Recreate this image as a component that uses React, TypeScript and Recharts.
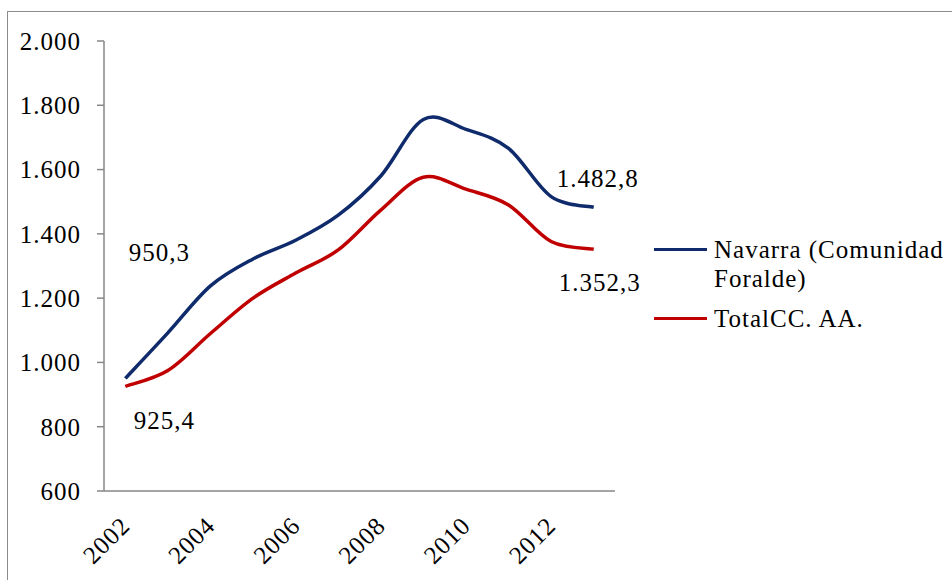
import React from "react";
import { LineChart, Line, XAxis, YAxis, LabelList } from "recharts";

const years = [2002, 2003, 2004, 2005, 2006, 2007, 2008, 2009, 2010, 2011, 2012, 2013];
const navarra = [950.3, 1092, 1238, 1322, 1380, 1458, 1580, 1756, 1725, 1666, 1516, 1482.8];
const totalCCAA = [925.4, 975, 1090, 1200, 1278, 1350, 1474, 1576, 1539, 1490, 1376, 1352.3];
const yTicks = [600, 800, 1000, 1200, 1400, 1600, 1800, 2000];
const labelYears = [2002, 2004, 2006, 2008, 2010, 2012];

const FONT = "Liberation Serif";
const AXIS = "#878787";

const data = years.map((year, i) => ({ year, navarra: navarra[i], total: totalCCAA[i] }));

// category boundaries, where the tick marks sit
const boundaries = [...years.map((y) => y - 0.5), years[years.length - 1] + 0.5];
const xDomain = [boundaries[0], boundaries[boundaries.length - 1]];

const series = [
  { key: "navarra", name: "Navarra (Comunidad Foralde)", color: "#0f2b6c", first: [34, -126], last: [4, -29] },
  { key: "total", name: "TotalCC. AA.", color: "#c00000", first: [39, 34], last: [6, 33] },
];

function fmt(v: number, dec = 0) {
  const [i, d] = v.toFixed(dec).split(".");
  const ii = i.replace(/\B(?=(\d{3})+(?!\d))/g, ".");
  return d ? ii + "," + d : ii;
}

// Excel-style smoothed line (cardinal spline through the points)
function excelSmooth(context: any) {
  let pts: number[][] = [];
  return {
    areaStart() {},
    areaEnd() {},
    lineStart() {
      pts = [];
    },
    lineEnd() {
      if (!pts.length) return;
      context.moveTo(pts[0][0], pts[0][1]);
      for (let i = 0; i < pts.length - 1; i++) {
        const p0 = pts[i - 1] || pts[i];
        const p1 = pts[i];
        const p2 = pts[i + 1];
        const p3 = pts[i + 2] || p2;
        context.bezierCurveTo(
          p1[0] + (p2[0] - p0[0]) / 6,
          p1[1] + (p2[1] - p0[1]) / 6,
          p2[0] - (p3[0] - p1[0]) / 6,
          p2[1] - (p3[1] - p1[1]) / 6,
          p2[0],
          p2[1]
        );
      }
    },
    point(x: number, y: number) {
      pts.push([+x, +y]);
    },
  };
}

const XLabel = (props: any) => {
  const { x, y, payload } = props;
  return (
    <g transform={`translate(${x},${y + 29}) rotate(-45)`}>
      <text textAnchor="end" dy="0.35em" fontFamily={FONT} fontSize={25} letterSpacing={1} fill="#000">
        {payload.value}
      </text>
    </g>
  );
};

const endLabel = (s: (typeof series)[number]) => (props: any) => {
  const { x, y, index, value } = props;
  let off: number[] | null = null;
  if (index === 0) off = s.first;
  if (index === years.length - 1) off = s.last;
  if (!off) return null;
  return (
    <text
      x={x + off[0]}
      y={y + off[1]}
      textAnchor="middle"
      dominantBaseline="central"
      fontFamily={FONT}
      fontSize={25}
      letterSpacing={1}
      fill="#000"
    >
      {fmt(value, 1)}
    </text>
  );
};

export default function App() {
  return (
    <div style={{ position: "fixed", left: 0, top: 0, width: 952, height: 580, background: "#fff", overflow: "hidden" }}>
      <div
        style={{
          position: "absolute",
          left: 7,
          top: 11,
          width: 1000,
          height: 1000,
          border: "1px solid #8c8c8c",
        }}
      />
      <div style={{ position: "absolute", left: 0, top: 0 }}>
        <LineChart width={952} height={580} data={data} margin={{ top: 41, right: 337, bottom: 29, left: 0 }}>
          <XAxis
            xAxisId="a"
            dataKey="year"
            type="number"
            domain={xDomain}
            ticks={boundaries}
            interval={0}
            tick={false}
            tickSize={7}
            height={1}
            tickLine={{ stroke: AXIS, strokeWidth: 1.5 }}
            axisLine={{ stroke: AXIS, strokeWidth: 1.5 }}
          />
          <XAxis
            xAxisId="b"
            dataKey="year"
            type="number"
            domain={xDomain}
            ticks={labelYears}
            interval={0}
            tick={<XLabel />}
            tickLine={false}
            axisLine={false}
            tickSize={0}
            tickMargin={0}
            height={59}
          />
          <YAxis
            type="number"
            domain={[600, 2000]}
            ticks={yTicks}
            interval={0}
            width={104}
            tickSize={7}
            tickMargin={16}
            tickFormatter={(v) => fmt(v)}
            tick={{ fontFamily: FONT, fontSize: 25, fill: "#000", letterSpacing: 1 }}
            tickLine={{ stroke: AXIS, strokeWidth: 1.5 }}
            axisLine={{ stroke: AXIS, strokeWidth: 1.5 }}
          />
          {series.map((s) => (
            <Line
              key={s.key}
              xAxisId="a"
              dataKey={s.key}
              name={s.name}
              type={excelSmooth as any}
              stroke={s.color}
              strokeWidth={3.5}
              dot={false}
              activeDot={false}
              isAnimationActive={false}
            >
              <LabelList dataKey={s.key} content={endLabel(s)} />
            </Line>
          ))}
        </LineChart>
      </div>
      <div style={{ position: "absolute", left: 654, top: 235, fontFamily: FONT, fontSize: 25, lineHeight: "29px", letterSpacing: 1 }}>
        {series.map((s) => (
          <div key={s.key} style={{ display: "flex", alignItems: "flex-start", marginBottom: 11 }}>
            <div style={{ width: 53, height: 3.5, background: s.color, marginTop: 12.5, marginRight: 7, flexShrink: 0 }} />
            <div style={{ width: 240, color: "#000" }}>{s.name}</div>
          </div>
        ))}
      </div>
    </div>
  );
}
